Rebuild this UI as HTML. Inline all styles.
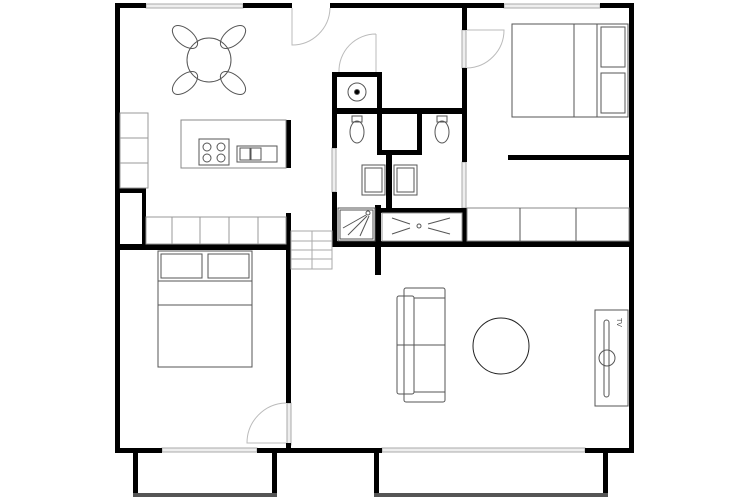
<!DOCTYPE html>
<html><head><style>html,body{margin:0;padding:0;background:#fff}svg{display:block}</style></head>
<body>
<svg width="750" height="500" viewBox="0 0 750 500" xmlns="http://www.w3.org/2000/svg" font-family="Liberation Sans, sans-serif">
<rect width="750" height="500" fill="#fff"/>
<!-- windows (gray) -->
<g fill="#eee" stroke="#aaa" stroke-width="1">
<rect x="146" y="4" width="97" height="4"/>
<rect x="504" y="4" width="96" height="4"/>
<rect x="162" y="448" width="95" height="4"/>
<rect x="382" y="448" width="203" height="4"/>
<rect x="462" y="30" width="4" height="38"/>
<rect x="462" y="162" width="4" height="46"/>
<rect x="332" y="148" width="4" height="44"/>
<rect x="287" y="403" width="4" height="42"/>
</g>
<!-- walls -->
<g fill="#000">
<rect x="115" y="3" width="31" height="5"/>
<rect x="243" y="3" width="49" height="5"/>
<rect x="330" y="3" width="174" height="5"/>
<rect x="600" y="3" width="34" height="5"/>
<rect x="115" y="3" width="5" height="450"/>
<rect x="629" y="3" width="5" height="450"/>
<rect x="115" y="448" width="47" height="5"/>
<rect x="257" y="448" width="125" height="5"/>
<rect x="585" y="448" width="49" height="5"/>
<!-- balconies -->
<rect x="133" y="452" width="5" height="44"/>
<rect x="272" y="452" width="5" height="44"/>
<rect x="374" y="452" width="5" height="44"/>
<rect x="603" y="452" width="5" height="44"/>
<!-- kitchen/bedroom -->
<rect x="115" y="244" width="176" height="6"/>
<rect x="286" y="213" width="5" height="190"/>
<rect x="286" y="443" width="5" height="8"/>
<rect x="286" y="120" width="5" height="48"/>
<rect x="120" y="188" width="26" height="5"/>
<rect x="142" y="188" width="4" height="57"/>
<!-- bath block -->
<rect x="332" y="72" width="5" height="76"/>
<rect x="332" y="192" width="5" height="55"/>
<rect x="332" y="72" width="50" height="5"/>
<rect x="377" y="72" width="5" height="40"/>
<rect x="332" y="108" width="134" height="6"/>
<rect x="377" y="108" width="5" height="47"/>
<rect x="417" y="108" width="5" height="47"/>
<rect x="377" y="150" width="45" height="5"/>
<rect x="386" y="150" width="6" height="60"/>
<rect x="375" y="205" width="6" height="70"/>
<rect x="380" y="208" width="86" height="5"/>
<rect x="332" y="241" width="302" height="6"/>
<rect x="462" y="3" width="5" height="27"/>
<rect x="462" y="68" width="5" height="94"/>
<rect x="462" y="208" width="5" height="39"/>
<rect x="508" y="155" width="126" height="5"/>
</g>
<rect x="133" y="493" width="144" height="4" fill="#555"/>
<rect x="374" y="493" width="234" height="4" fill="#555"/>
<g fill="none" stroke="#555" stroke-width="1">
<!-- dining -->
<circle cx="209" cy="60" r="22"/>
<ellipse cx="185" cy="37" rx="15" ry="8" transform="rotate(40 185 37)"/>
<ellipse cx="233" cy="37" rx="15" ry="8" transform="rotate(-40 233 37)"/>
<ellipse cx="185" cy="83" rx="15" ry="8" transform="rotate(-40 185 83)"/>
<ellipse cx="233" cy="83" rx="15" ry="8" transform="rotate(40 233 83)"/>
<!-- kitchen -->
<rect x="181" y="120" width="105" height="48" stroke="#888"/>
<rect x="199" y="139" width="30" height="26"/>
<circle cx="207" cy="147" r="4"/><circle cx="221" cy="147" r="4"/><circle cx="207" cy="158" r="4"/><circle cx="221" cy="158" r="4"/>
<rect x="237" y="146" width="40" height="16"/>
<rect x="240" y="148" width="10" height="12"/><rect x="251" y="148" width="10" height="12"/>
<rect x="120" y="113" width="28" height="75" stroke="#999"/>
<line x1="120" y1="138" x2="148" y2="138" stroke="#999"/><line x1="120" y1="163" x2="148" y2="163" stroke="#999"/>
<rect x="146" y="217" width="140" height="27" stroke="#999"/>
<line x1="172" y1="217" x2="172" y2="244" stroke="#999"/><line x1="200" y1="217" x2="200" y2="244" stroke="#999"/><line x1="229" y1="217" x2="229" y2="244" stroke="#999"/><line x1="258" y1="217" x2="258" y2="244" stroke="#999"/>
<!-- stairs -->
<g stroke="#aaa"><rect x="291" y="231" width="41" height="38"/><line x1="291" y1="241" x2="332" y2="241"/><line x1="291" y1="250" x2="332" y2="250"/><line x1="291" y1="259" x2="332" y2="259"/><line x1="312" y1="231" x2="312" y2="269"/></g>
<!-- doors -->
<g stroke="#bbb">
<path d="M292 8 V45 A38 38 0 0 0 330 8"/>
<path d="M376 34 V72 M376 34 A37 37 0 0 0 339 72"/>
<path d="M467 30 H504 A38 38 0 0 1 467 68"/>
<path d="M286 403 A40 40 0 0 0 247 443 H286"/>
</g>
<!-- bathrooms -->
<circle cx="357" cy="92" r="9"/><circle cx="357" cy="92" r="2.5" fill="#000"/>
<rect x="352" y="116" width="10" height="6"/><ellipse cx="357" cy="132" rx="7" ry="11"/>
<rect x="437" y="116" width="10" height="6"/><ellipse cx="442" cy="132" rx="7" ry="11"/>
<rect x="362" y="165" width="23" height="30"/><rect x="365" y="168" width="17" height="24"/>
<rect x="394" y="165" width="23" height="30"/><rect x="397" y="168" width="17" height="24"/>
<rect x="338" y="208" width="37" height="33"/><rect x="340" y="210" width="33" height="29"/>
<circle cx="368" cy="213" r="2"/>
<line x1="366" y1="215" x2="343" y2="228"/><line x1="367" y1="216" x2="348" y2="235"/><line x1="369" y1="216" x2="360" y2="236"/>
<rect x="382" y="213" width="80" height="28" stroke="#999"/>
<circle cx="419" cy="226" r="2"/>
<line x1="392" y1="218" x2="410" y2="224"/><line x1="392" y1="234" x2="410" y2="228"/><line x1="428" y1="224" x2="450" y2="218"/><line x1="428" y1="228" x2="450" y2="234"/>
<!-- right bedroom -->
<rect x="512" y="24" width="116" height="93"/>
<line x1="574" y1="24" x2="574" y2="117"/><line x1="597" y1="24" x2="597" y2="117"/>
<rect x="601" y="27" width="24" height="40"/><rect x="601" y="73" width="24" height="40"/>
<rect x="467" y="208" width="162" height="33" stroke="#888"/>
<line x1="520" y1="208" x2="520" y2="241"/><line x1="576" y1="208" x2="576" y2="241"/>
<!-- left bedroom -->
<rect x="158" y="251" width="94" height="116"/>
<rect x="161" y="254" width="41" height="24"/><rect x="208" y="254" width="41" height="24"/>
<line x1="158" y1="281" x2="252" y2="281"/><line x1="158" y1="305" x2="252" y2="305"/>
<!-- living -->
<rect x="404" y="288" width="41" height="114" rx="2"/>
<rect x="397" y="296" width="17" height="98" rx="2"/>
<line x1="414" y1="345" x2="445" y2="345"/><line x1="397" y1="345" x2="414" y2="345"/>
<rect x="414" y="298" width="31" height="94"/>
<circle cx="501" cy="346" r="28" stroke="#222"/>
<rect x="595" y="310" width="33" height="96"/>
<rect x="604" y="320" width="5" height="77" rx="2.5"/>
<circle cx="607" cy="358" r="8"/>
</g>
<text x="617" y="318" font-size="7" fill="#444" transform="rotate(90 617 318)">TV</text>
</svg>
</body></html>
